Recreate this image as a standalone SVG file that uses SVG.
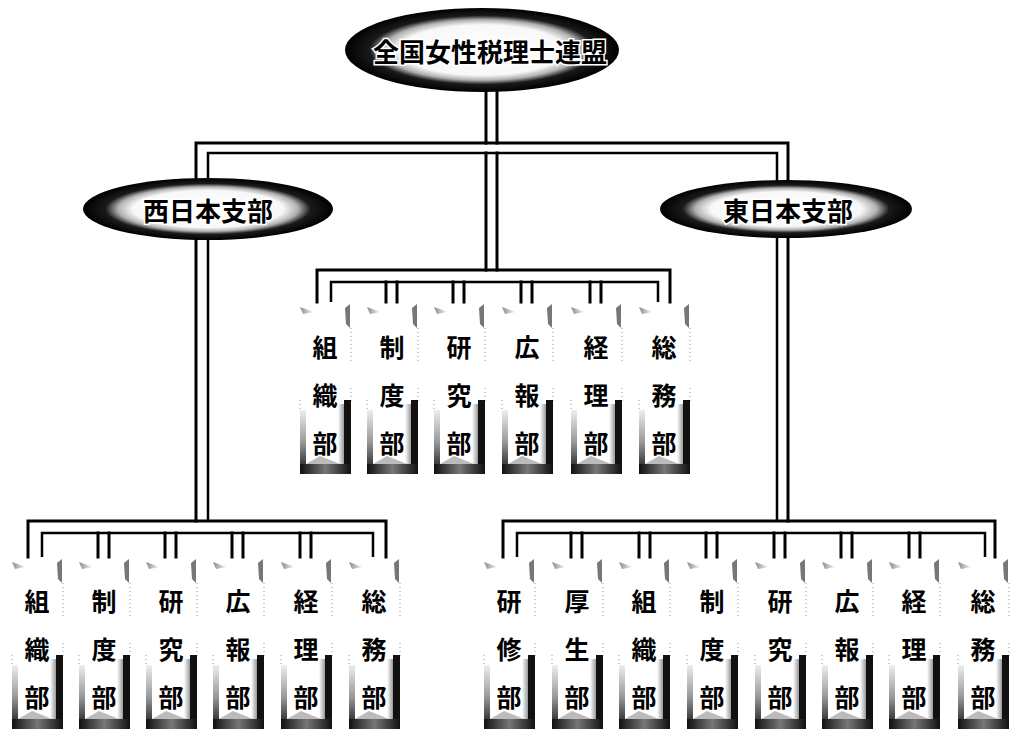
<svg xmlns="http://www.w3.org/2000/svg" xmlns:xlink="http://www.w3.org/1999/xlink" width="1023" height="731" viewBox="0 0 1023 731">
<style>
.ln{fill:none;stroke:#000;stroke-width:3;stroke-linecap:square}
.in{fill:none;stroke:#000;stroke-width:2.5}
.ch{font-family:"Noto Sans CJK JP","Noto Sans CJK SC",sans-serif;font-weight:700;font-size:25px;fill:#000;text-anchor:middle;dominant-baseline:central}
.et{font-family:"Noto Sans CJK JP","Noto Sans CJK SC",sans-serif;font-weight:700;fill:#000;stroke:#fff;stroke-width:3;paint-order:stroke;text-anchor:middle;dominant-baseline:central}
.faint{fill:none;stroke:#999;stroke-width:1;stroke-dasharray:1 3}
</style>
<defs>
<radialGradient id="gEl" cx="50%" cy="50%" r="50%">
<stop offset="0" stop-color="#fff"/>
<stop offset="0.6" stop-color="#f8f8f8"/>
<stop offset="0.72" stop-color="#b0b0b0"/>
<stop offset="0.82" stop-color="#1a1a1a"/>
<stop offset="1" stop-color="#000"/>
</radialGradient>
<linearGradient id="gLeft" x1="0" y1="0" x2="0" y2="1">
<stop offset="0" stop-color="#eee"/>
<stop offset="0.5" stop-color="#999"/>
<stop offset="1" stop-color="#111"/>
</linearGradient>
<linearGradient id="gBot" x1="0" y1="0" x2="1" y2="0">
<stop offset="0" stop-color="#111"/>
<stop offset="0.5" stop-color="#777"/>
<stop offset="1" stop-color="#111"/>
</linearGradient>
<linearGradient id="gRt" x1="0" y1="0" x2="1" y2="0">
<stop offset="0" stop-color="#fff"/>
<stop offset="1" stop-color="#888"/>
</linearGradient>
<linearGradient id="gTL" x1="0" y1="0" x2="1" y2="0">
<stop offset="0" stop-color="#888"/>
<stop offset="1" stop-color="#fff"/>
</linearGradient>
<symbol id="panel" overflow="visible">
<path d="M0,3 L14,8 L3,10 Z" fill="url(#gTL)"/>
<path d="M45,4 L50,0 L50,24 L46,20 Z" fill="#777"/>
<line class="faint" x1="51" y1="24" x2="51" y2="60"/>
<line class="faint" x1="51" y1="84" x2="51" y2="100"/>
<line class="faint" x1="0" y1="96" x2="0" y2="106"/>
<rect x="38" y="100" width="7" height="70" fill="url(#gRt)"/>
<rect x="44" y="96" width="7" height="74" fill="#111"/>
<rect x="0" y="106" width="6" height="64" fill="url(#gLeft)"/>
<rect x="0" y="160" width="51" height="10" fill="url(#gBot)"/>
<path d="M6,160 L20,152 L40,160 Z" fill="#bbb"/>
</symbol>
</defs>
<rect width="1023" height="731" fill="#fff"/>

<g id="connectors">
<polyline class="ln" points="196,521 196,143 788,143 788,521"/>
<polyline class="in" points="208,521 208,153 777,153 777,521"/>
<line class="ln" x1="486" y1="88" x2="486" y2="143"/>
<line class="ln" x1="497" y1="88" x2="497" y2="143"/>
<line class="ln" x1="486" y1="153" x2="486" y2="270"/>
<line class="ln" x1="497" y1="153" x2="497" y2="270"/>

<polyline class="ln" points="28,557 28,521 386,521 386,557"/>
<polyline class="in" points="42,557 42,533 373,533 373,557"/>
<path class="ln" d="M98,533V557M109,533V557M165,533V557M176,533V557M232,533V557M243,533V557M300,533V557M311,533V557"/>

<polyline class="ln" points="317,302 317,270 670,270 670,302"/>
<polyline class="in" points="331,302 331,282 658,282 658,302"/>
<path class="ln" d="M386,282V302M397,282V302M453,282V302M464,282V302M521,282V302M532,282V302M590,282V302M601,282V302"/>

<polyline class="ln" points="503,557 503,521 995,521 995,557"/>
<polyline class="in" points="517,557 517,533 985,533 985,557"/>
<path class="ln" d="M571,533V557M582,533V557M639,533V557M650,533V557M706,533V557M717,533V557M774,533V557M785,533V557M841,533V557M852,533V557M909,533V557M920,533V557"/>
</g>

<g id="top">
<ellipse cx="482" cy="50" rx="137" ry="42" fill="url(#gEl)"/>
<text class="et" x="490" y="50" font-size="26">全国女性税理士連盟</text>
</g>
<g id="west">
<ellipse cx="208" cy="209" rx="125" ry="31" fill="url(#gEl)"/>
<text class="et" x="208" y="209" font-size="26">西日本支部</text>
</g>
<g id="east">
<ellipse cx="786" cy="209" rx="126" ry="29" fill="url(#gEl)"/>
<text class="et" x="788" y="209" font-size="26">東日本支部</text>
</g>

<!-- central row -->
<g id="c1"><use href="#panel" x="300" y="304"/><text class="ch" x="325" y="346">組</text><text class="ch" x="325" y="394">織</text><text class="ch" x="325" y="442">部</text></g>
<g id="c2"><use href="#panel" x="367" y="304"/><text class="ch" x="392" y="346">制</text><text class="ch" x="392" y="394">度</text><text class="ch" x="392" y="442">部</text></g>
<g id="c3"><use href="#panel" x="434" y="304"/><text class="ch" x="459" y="346">研</text><text class="ch" x="459" y="394">究</text><text class="ch" x="459" y="442">部</text></g>
<g id="c4"><use href="#panel" x="502" y="304"/><text class="ch" x="527" y="346">広</text><text class="ch" x="527" y="394">報</text><text class="ch" x="527" y="442">部</text></g>
<g id="c5"><use href="#panel" x="571" y="304"/><text class="ch" x="596" y="346">経</text><text class="ch" x="596" y="394">理</text><text class="ch" x="596" y="442">部</text></g>
<g id="c6"><use href="#panel" x="639" y="304"/><text class="ch" x="664" y="346">総</text><text class="ch" x="664" y="394">務</text><text class="ch" x="664" y="442">部</text></g>

<!-- west row -->
<g id="w1"><use href="#panel" x="12" y="559"/><text class="ch" x="37" y="600">組</text><text class="ch" x="37" y="648">織</text><text class="ch" x="37" y="696">部</text></g>
<g id="w2"><use href="#panel" x="79" y="559"/><text class="ch" x="104" y="600">制</text><text class="ch" x="104" y="648">度</text><text class="ch" x="104" y="696">部</text></g>
<g id="w3"><use href="#panel" x="146" y="559"/><text class="ch" x="171" y="600">研</text><text class="ch" x="171" y="648">究</text><text class="ch" x="171" y="696">部</text></g>
<g id="w4"><use href="#panel" x="213" y="559"/><text class="ch" x="238" y="600">広</text><text class="ch" x="238" y="648">報</text><text class="ch" x="238" y="696">部</text></g>
<g id="w5"><use href="#panel" x="281" y="559"/><text class="ch" x="306" y="600">経</text><text class="ch" x="306" y="648">理</text><text class="ch" x="306" y="696">部</text></g>
<g id="w6"><use href="#panel" x="349" y="559"/><text class="ch" x="374" y="600">総</text><text class="ch" x="374" y="648">務</text><text class="ch" x="374" y="696">部</text></g>

<!-- east row -->
<g id="e1"><use href="#panel" x="484" y="559"/><text class="ch" x="509" y="600">研</text><text class="ch" x="509" y="648">修</text><text class="ch" x="509" y="696">部</text></g>
<g id="e2"><use href="#panel" x="552" y="559"/><text class="ch" x="577" y="600">厚</text><text class="ch" x="577" y="648">生</text><text class="ch" x="577" y="696">部</text></g>
<g id="e3"><use href="#panel" x="619" y="559"/><text class="ch" x="644" y="600">組</text><text class="ch" x="644" y="648">織</text><text class="ch" x="644" y="696">部</text></g>
<g id="e4"><use href="#panel" x="687" y="559"/><text class="ch" x="712" y="600">制</text><text class="ch" x="712" y="648">度</text><text class="ch" x="712" y="696">部</text></g>
<g id="e5"><use href="#panel" x="755" y="559"/><text class="ch" x="780" y="600">研</text><text class="ch" x="780" y="648">究</text><text class="ch" x="780" y="696">部</text></g>
<g id="e6"><use href="#panel" x="822" y="559"/><text class="ch" x="847" y="600">広</text><text class="ch" x="847" y="648">報</text><text class="ch" x="847" y="696">部</text></g>
<g id="e7"><use href="#panel" x="889" y="559"/><text class="ch" x="914" y="600">経</text><text class="ch" x="914" y="648">理</text><text class="ch" x="914" y="696">部</text></g>
<g id="e8"><use href="#panel" x="958" y="559"/><text class="ch" x="983" y="600">総</text><text class="ch" x="983" y="648">務</text><text class="ch" x="983" y="696">部</text></g>
</svg>
